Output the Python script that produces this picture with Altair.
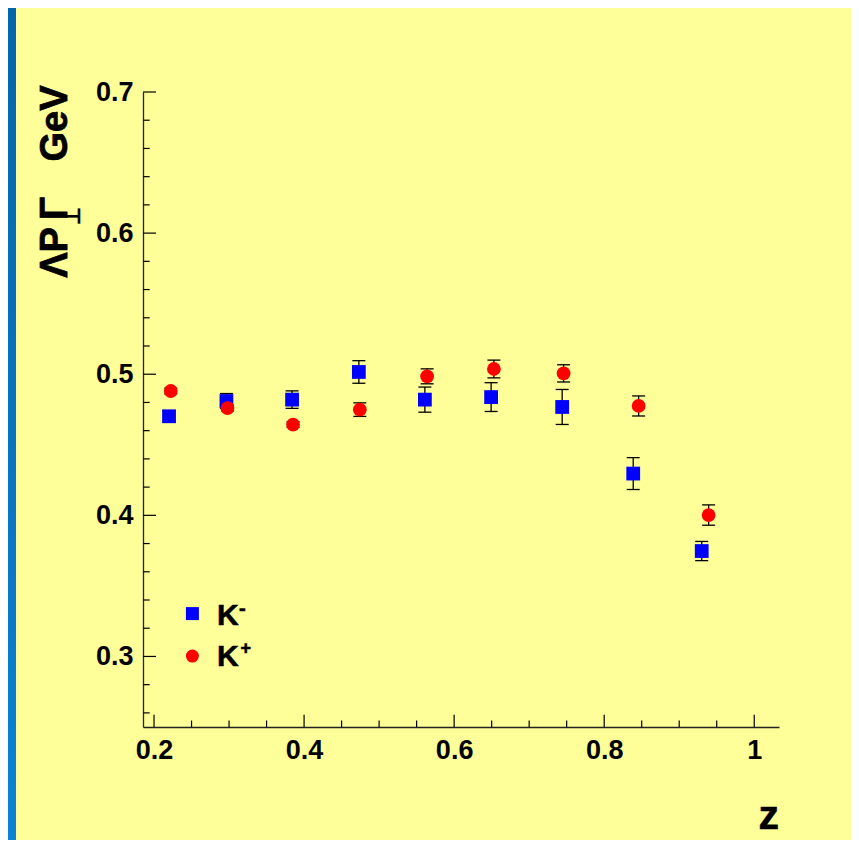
import altair as alt
import pandas as pd

# ---------------- data ----------------
series_names = ["K-", "K+"]

z_kminus = [0.220, 0.2965, 0.384, 0.473, 0.561, 0.6493, 0.744, 0.8387, 0.930]
v_kminus = [0.4702, 0.481, 0.482, 0.5016, 0.482, 0.4838, 0.4768, 0.4296, 0.3747]
e_kminus = [0.004, 0.0053, 0.0062, 0.008, 0.0089, 0.0102, 0.0124, 0.0113, 0.0068]

z_kplus = [0.2223, 0.2979, 0.3853, 0.4743, 0.564, 0.653, 0.7459, 0.8459, 0.9392]
v_kplus = [0.4881, 0.476, 0.4643, 0.4749, 0.4985, 0.5037, 0.5006, 0.4775, 0.4002]
e_kplus = [0.002, 0.002, 0.002, 0.0048, 0.0053, 0.0063, 0.0061, 0.0071, 0.0072]

x_tick_major = [0.2, 0.4, 0.6, 0.8, 1.0]
x_tick_minor = [0.25, 0.3, 0.35, 0.45, 0.5, 0.55, 0.65, 0.7, 0.75, 0.85, 0.9, 0.95]
y_tick_major = [0.3, 0.4, 0.5, 0.6, 0.7]
y_tick_minor = [0.26, 0.28, 0.32, 0.34, 0.36, 0.38, 0.42, 0.44, 0.46, 0.48,
                0.52, 0.54, 0.56, 0.58, 0.62, 0.64, 0.66, 0.68]

X_DOMAIN = [0.1853, 1.033]
Y_DOMAIN = [0.25, 0.70]

# ---------------- layout ----------------
W, H = 636, 635
PAD = {"left": 135, "top": 84, "right": 72, "bottom": 113}
FONT = "Liberation Sans"
YELLOW = "#FFFF99"

rows = []
for s, zs, vs, es in [("K-", z_kminus, v_kminus, e_kminus), ("K+", z_kplus, v_kplus, e_kplus)]:
    for z, v, e in zip(zs, vs, es):
        rows.append({"series": s, "z": z, "val": v, "lo": v - e, "hi": v + e})
df = pd.DataFrame(rows)

xs = alt.Scale(domain=X_DOMAIN, nice=False, zero=False)
ys = alt.Scale(domain=Y_DOMAIN, nice=False, zero=False)

x_axis = alt.Axis(values=x_tick_major, format="~g", labelFont=FONT, labelFontWeight="bold",
                  labelFontSize=27, labelColor="black", labelPadding=10, ticks=False, tickSize=0,
                  domainColor="#222222", domainWidth=1.3, grid=False, title=None,
                  labelFlush=False, labelOverlap=False)
y_axis = alt.Axis(values=y_tick_major, format=".1f", labelFont=FONT, labelFontWeight="bold",
                  labelFontSize=27, labelColor="black", labelPadding=10, ticks=False, tickSize=0,
                  domainColor="#222222", domainWidth=1.3, grid=False, title=None,
                  labelFlush=False, labelOverlap=False)

base = alt.Chart(df)

err_line = base.mark_rule(color="black", strokeWidth=1.3).encode(
    x=alt.X("z:Q", scale=xs, axis=x_axis),
    y=alt.Y("lo:Q", scale=ys, axis=y_axis),
    y2="hi:Q",
)
cap_lo = base.mark_rule(color="black", strokeWidth=1.3, xOffset=-6.5, x2Offset=6.5).encode(
    x=alt.X("z:Q", scale=xs), x2="z:Q", y=alt.Y("lo:Q", scale=ys)
)
cap_hi = base.mark_rule(color="black", strokeWidth=1.3, xOffset=-6.5, x2Offset=6.5).encode(
    x=alt.X("z:Q", scale=xs), x2="z:Q", y=alt.Y("hi:Q", scale=ys)
)
points = base.mark_point(filled=True, size=190, opacity=1, strokeWidth=0).encode(
    x=alt.X("z:Q", scale=xs),
    y=alt.Y("val:Q", scale=ys),
    shape=alt.Shape("series:N", scale=alt.Scale(domain=series_names, range=["square", "circle"]), legend=None),
    color=alt.Color("series:N", scale=alt.Scale(domain=series_names, range=["#0000FF", "#FF0000"]), legend=None),
)

# inward ticks
def xticks(vals, length):
    return alt.Chart(pd.DataFrame({"v": vals})).mark_rule(color="black", strokeWidth=1.2).encode(
        x=alt.X("v:Q", scale=xs), y=alt.value(H), y2=alt.value(H - length))

def yticks(vals, length):
    return alt.Chart(pd.DataFrame({"v": vals})).mark_rule(color="black", strokeWidth=1.2).encode(
        y=alt.Y("v:Q", scale=ys), x=alt.value(0), x2=alt.value(length))

ticks = [xticks(x_tick_major, 12.3), xticks(x_tick_minor, 6.5),
         yticks(y_tick_major, 13), yticks(y_tick_minor, 6.7)]

def label(txt, x, y, size, angle=0, align="center", baseline="alphabetic", font=FONT, heavy=0.0):
    kw = dict(font=font, fontSize=size, fontWeight="bold", color="black", align=align, baseline=baseline)
    if angle:
        kw["angle"] = angle
    if heavy:
        kw["stroke"] = "black"
        kw["strokeWidth"] = heavy
    return alt.Chart(pd.DataFrame({"t": [txt]})).mark_text(**kw).encode(
        text="t:N", x=alt.value(x), y=alt.value(y))

titles = [
    label("ΛP", -76.3, 160.5, 38, angle=270, heavy=0.8),
    label("⊥", -63.3, 124.3, 20, angle=270, font="DejaVu Sans", heavy=0.4),
    label("Γ", -76.3, 116.5, 38, angle=270, heavy=0.8),
    label("GeV", -76.3, 31.5, 38, angle=270, heavy=0.8),
    label("z", W, 737.3, 41, align="right", heavy=0.6),
]

# legend (annotation)
leg_sq = alt.Chart(pd.DataFrame({"s": ["K-"]})).mark_point(
    shape="square", filled=True, size=169, color="#0000FF", opacity=1, strokeWidth=0).encode(
    x=alt.value(49.4), y=alt.value(521.6))
leg_ci = alt.Chart(pd.DataFrame({"s": ["K+"]})).mark_point(
    shape="circle", filled=True, size=169, color="#FF0000", opacity=1, strokeWidth=0).encode(
    x=alt.value(49.4), y=alt.value(564.1))
legend = [
    leg_sq, leg_ci,
    label("K", 74, 533.3, 30, align="left", heavy=0.6),
    label("-", 96, 522.9, 20, align="left", heavy=0.6),
    label("K", 74, 574.3, 30, align="left", heavy=0.6),
    label("+", 97.4, 562.1, 18, align="left", heavy=0.6),
]

# left blue frame strip
frame = alt.Chart(pd.DataFrame({"a": [1]})).mark_rect(
    color=alt.Gradient(gradient="linear",
                       stops=[alt.GradientStop(color="#0565AC", offset=0),
                              alt.GradientStop(color="#0B82D4", offset=1)],
                       x1=0, x2=0, y1=0, y2=1)).encode(
    x=alt.value(-PAD["left"]), x2=alt.value(-PAD["left"] + 8),
    y=alt.value(-PAD["top"]), y2=alt.value(H + PAD["bottom"]))

chart = alt.layer(
    err_line, cap_lo, cap_hi, *ticks, points, *titles, *legend, frame
).properties(
    width=W, height=H,
    autosize=alt.AutoSizeParams(type="none"),
    padding=PAD,
    background=YELLOW,
).configure_view(stroke=None)

chart.save("out.html", embed_options={"renderer": "svg", "actions": False})
